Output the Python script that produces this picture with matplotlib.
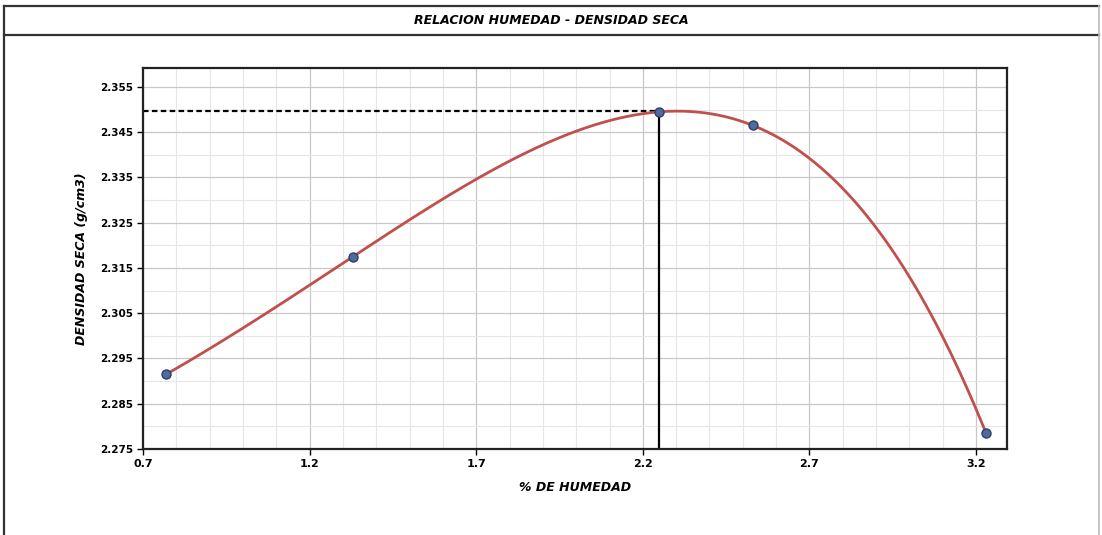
import matplotlib

matplotlib.use("Agg")
import matplotlib.pyplot as plt
import numpy as np
from matplotlib.lines import Line2D
from matplotlib.ticker import MultipleLocator

# moisture (%) vs dry density (g/cm3)
humedad = [0.77, 1.33, 2.25, 2.53, 3.23]
densidad = [2.2915, 2.3175, 2.3495, 2.3465, 2.2785]
opt_humedad = 2.25
max_densidad = 2.3497

x_ticks = [0.7, 1.2, 1.7, 2.2, 2.7, 3.2]
y_ticks = [2.275, 2.285, 2.295, 2.305, 2.315, 2.325, 2.335, 2.345, 2.355]

plt.rcParams["font.family"] = ["Liberation Sans Narrow", "DejaVu Sans"]

fig = plt.figure(figsize=(11.02, 5.35), dpi=100)
ax = fig.add_axes([0.1298, 0.161, 0.784, 0.712])

# smooth fit through the points
coef = np.polyfit(humedad, densidad, 4)
xs = np.linspace(min(humedad), max(humedad), 300)
ax.plot(xs, np.polyval(coef, xs), color="#c0504d", lw=2, zorder=3)
ax.plot(humedad, densidad, "o", ms=6.5, color="#4f6a9c",
        mec="#2f3f66", mew=1, zorder=4)

ax.plot([0.7, opt_humedad], [max_densidad, max_densidad], color="black",
        ls=(0, (2.5, 1.5)), lw=1.6, zorder=2)
ax.plot([opt_humedad, opt_humedad], [2.275, max_densidad], color="black",
        lw=1.6, zorder=2)

ax.set_xlim(0.7, 3.293)
ax.set_ylim(2.275, 2.3592)
ax.set_xticks(x_ticks)
ax.set_yticks(y_ticks)
ax.set_xticklabels([f"{v:.1f}" for v in x_ticks], fontsize=8,
                   fontweight="bold")
ax.set_yticklabels([f"{v:.3f}" for v in y_ticks], fontsize=7.5,
                   fontweight="bold")
ax.xaxis.set_minor_locator(MultipleLocator(0.1))
ax.yaxis.set_minor_locator(MultipleLocator(0.005))
ax.grid(which="major", color="#c8c8c8", lw=0.9)
ax.grid(which="minor", color="#e6e6e6", lw=0.8)
ax.tick_params(which="major", length=4, width=1, pad=3)
ax.tick_params(which="minor", length=0)
for s in ax.spines.values():
    s.set_linewidth(1.6)
    s.set_color("#222222")

ax.set_xlabel("% DE HUMEDAD", fontsize=9, fontweight="bold",
              fontstyle="italic", labelpad=9)
ax.set_ylabel("DENSIDAD SECA (g/cm3)", fontsize=9, fontweight="bold",
              fontstyle="italic", labelpad=9)

# outer frame and title band
frame = dict(color="#333333", lw=1.6, transform=fig.transFigure)
fig.add_artist(Line2D([0.004, 0.997], [0.989, 0.989], **frame))
fig.add_artist(Line2D([0.004, 0.997], [0.934, 0.934], **frame))
fig.add_artist(Line2D([0.004, 0.004], [0.0, 0.989], **frame))
fig.add_artist(Line2D([0.997, 0.997], [0.0, 0.989], color="#bbbbbb",
                      lw=1.2, transform=fig.transFigure))
fig.text(0.5, 0.962, "RELACION HUMEDAD - DENSIDAD SECA", ha="center",
         va="center", fontsize=9, fontweight="bold", fontstyle="italic")

fig.savefig("out.png", dpi=100)
